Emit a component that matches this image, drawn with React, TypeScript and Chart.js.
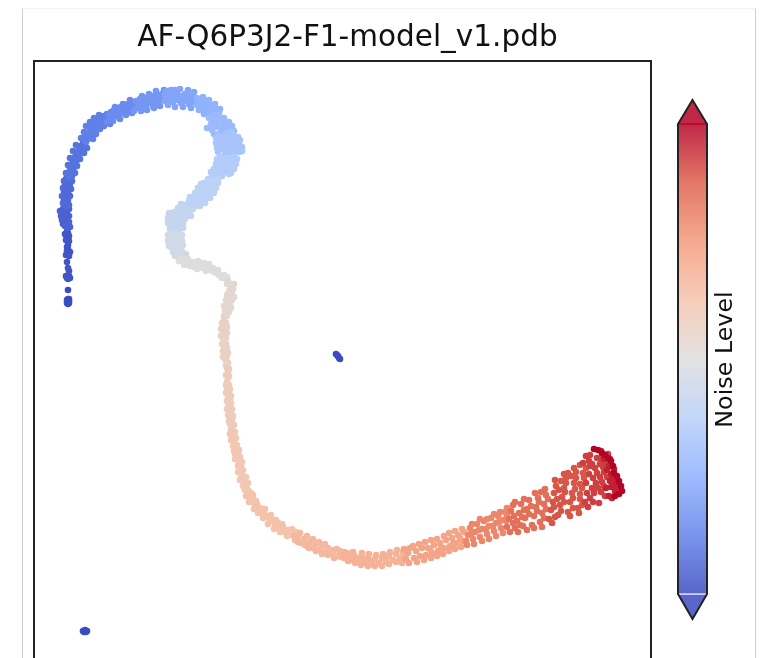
import React, { useEffect, useRef } from "react";
import { Chart, registerables } from "chart.js";

Chart.register(...registerables);

const chartTitle = "AF-Q6P3J2-F1-model_v1.pdb";
const colorbarLabel = "Noise Level";

// Coolwarm colormap anchors, evenly spaced from 0 to 1
const coolwarm = [
  [59, 76, 192], [98, 130, 234], [141, 176, 254], [184, 208, 249], [221, 221, 221],
  [245, 196, 173], [244, 154, 123], [222, 96, 77], [180, 4, 38],
];

// Embedding points, as x,y pairs grouped by noise level
const islandNoise = 0.0;
const islandA = [30.2,32.4, 30.3,32.3, 30.4,32.2, 30.5,32.0, 30.6,31.9];
const islandB = [4.9,4.7, 5.1,4.8, 5.2,4.6, 5.0,4.6, 5.3,4.7];

const bandNoise = [0.0,0.02,0.05,0.07,0.09,0.12,0.15,0.18,0.22,0.26,0.29,0.33,0.36,0.39,0.42,0.46,0.5,0.53,0.56,0.59,0.61,0.63,0.66,0.68,0.72,0.79,0.84,0.89,0.92,0.96,1.0];

const band00 = [3.4,37.6, 3.3,37.8, 3.5,37.7, 3.3,37.5, 3.4,37.4, 3.5,37.5, 3.4,37.9, 3.5,37.9, 3.4,38.8];
const band01 = [3.4,40.1, 3.3,40.0, 3.5,40.2, 3.2,40.2, 3.6,40.0, 3.4,39.9, 3.5,40.7, 3.4,41.0, 3.4,42.4, 3.3,42.7, 3.5,42.5, 3.2,42.3, 3.6,42.6, 3.4,42.9, 3.5,42.2, 3.3,43.1, 3.4,43.3, 3.3,41.6, 3.3,44.1, 3.2,44.3, 3.4,44.0, 3.5,44.2, 3.1,44.4, 3.3,44.6, 3.4,44.5, 3.2,43.8, 3.5,43.7];
const band02 = [3.3,45.0, 3.1,45.2, 3.4,45.3, 3.2,45.5, 3.0,45.7, 3.3,45.8, 3.1,46.0, 2.9,46.2, 3.2,46.3, 3.0,46.5, 2.8,46.5, 3.3,46.6, 3.1,46.8, 2.9,46.9, 2.8,45.8, 3.5,45.6, 2.7,46.2, 3.5,46.2, 2.6,46.7, 3.5,46.9, 2.9,45.4, 3.6,45.1];
const band03 = [3.2,47.1, 3.0,47.3, 3.3,47.5, 3.1,47.7, 3.4,47.8, 3.0,47.9, 3.2,48.1, 3.4,48.3, 3.1,48.4, 3.3,48.6, 3.0,48.7, 3.5,48.8, 3.2,49.0, 3.4,49.2, 3.1,49.3, 3.6,49.4, 3.3,49.6, 3.5,49.8, 3.2,49.9, 2.9,47.5, 3.5,47.3, 2.8,48.2, 3.6,48.2, 2.9,49.0, 3.7,48.9, 3.0,49.7, 3.8,49.7];
const band04 = [3.5,50.1, 3.8,50.2, 3.4,50.4, 3.7,50.6, 3.9,50.8, 3.6,51.0, 4.0,51.1, 3.8,51.4, 4.2,51.5, 3.9,51.7, 4.3,51.9, 4.1,52.1, 4.5,52.2, 4.3,52.5, 4.7,52.6, 4.5,52.8, 4.9,53.0, 4.7,53.2, 5.1,53.3, 4.9,53.5, 3.2,50.5, 4.1,50.5, 3.4,51.3, 4.3,51.2, 3.6,52.0, 4.6,51.9, 3.9,52.7, 5.0,52.5, 4.2,53.3, 5.3,53.0];
const band05 = [5.2,53.6, 5.4,53.9, 5.0,54.0, 5.3,54.3, 5.7,54.2, 5.5,54.6, 5.9,54.6, 5.6,55.0, 6.0,54.9, 5.9,55.3, 6.3,55.1, 6.1,55.5, 6.5,55.4, 6.4,55.8, 6.8,55.5, 6.7,56.0, 7.1,55.7, 7.0,56.2, 7.4,55.9, 7.3,56.4, 4.7,54.0, 5.0,54.6, 5.9,53.9, 6.2,54.4, 5.2,55.2, 5.6,55.6, 6.6,54.9, 7.0,55.2, 6.0,56.0, 6.5,56.3, 7.6,55.4, 5.5,54.2, 6.2,54.9];
const band06 = [7.6,56.0, 7.7,56.6, 8.0,56.2, 8.0,56.8, 8.3,56.4, 8.4,57.0, 8.7,56.5, 8.7,57.1, 9.0,56.7, 9.1,57.3, 9.3,56.9, 9.4,57.4, 9.7,57.0, 9.8,57.6, 9.6,57.2, 10.0,57.2, 8.3,56.7, 7.3,55.6, 7.9,55.7, 8.6,55.9, 8.5,56.1, 9.2,56.3, 9.8,56.5, 7.5,56.4, 8.1,57.1, 8.9,57.4, 9.6,57.8, 8.5,56.6, 9.4,56.7];
const band07 = [10.2,57.0, 10.2,57.7, 10.5,57.3, 10.6,57.9, 10.9,57.1, 10.9,57.6, 11.2,57.9, 11.2,57.3, 11.6,57.5, 11.6,58.1, 12.0,57.6, 12.0,58.2, 12.3,57.7, 12.4,58.3, 12.7,57.8, 12.8,58.4, 12.6,58.1, 11.0,58.0, 10.4,57.5, 10.0,56.7, 10.7,56.7, 11.3,56.8, 12.0,57.0, 12.6,57.2, 10.8,58.2, 11.5,58.4, 12.2,58.7, 13.0,58.8, 11.1,57.0, 11.9,57.2, 12.4,57.3];
const band08 = [13.1,57.7, 13.1,58.3, 13.5,57.9, 13.5,58.5, 13.9,57.6, 13.9,58.3, 14.3,57.8, 14.3,58.5, 14.7,57.5, 14.7,58.2, 15.1,57.7, 15.1,58.4, 15.5,57.4, 15.5,58.2, 15.9,57.6, 15.9,58.3, 13.3,58.7, 14.1,58.8, 13.4,57.3, 14.1,57.1, 14.9,57.1, 15.7,57.0, 13.7,58.8, 14.6,58.9, 15.4,58.8, 16.0,58.6, 13.3,58.0, 14.1,58.1, 14.9,57.9, 15.3,57.9, 15.7,57.9];
const band09 = [16.3,57.3, 16.3,58.0, 16.7,57.1, 16.7,57.8, 17.1,56.9, 17.1,57.6, 17.5,56.7, 17.5,57.4, 17.8,56.4, 17.9,57.1, 18.2,56.2, 18.2,56.9, 16.9,57.5, 17.3,57.2, 16.5,56.8, 17.0,56.4, 17.5,56.1, 16.9,58.1, 17.5,57.8, 18.1,57.4, 18.6,56.9, 16.5,57.6, 17.2,56.7, 17.7,56.9, 18.5,56.5];
const band10 = [17.5,56.0, 17.9,55.7, 18.4,56.4, 18.7,56.0, 18.2,55.5, 17.9,56.3, 18.9,55.6, 18.5,55.2, 19.2,55.3, 18.8,55.0, 19.3,54.9, 18.3,55.8, 17.7,55.4, 19.0,54.6, 19.5,54.5, 18.7,54.6, 18.2,55.1, 19.6,54.9, 17.3,55.0, 17.8,54.8, 18.0,54.4, 19.0,56.0, 19.5,55.6, 19.8,55.2, 20.0,54.7, 18.0,55.3, 18.5,54.4, 19.3,54.2];
const band11 = [18.5,54.2, 19.0,54.2, 19.5,54.1, 20.0,54.2, 18.6,53.8, 19.1,53.8, 19.6,53.7, 20.1,53.7, 18.6,53.4, 19.1,53.3, 19.6,53.3, 20.1,53.3, 20.5,53.5, 18.9,52.9, 19.4,52.9, 19.9,52.9, 20.4,53.0, 19.1,52.5, 19.6,52.5, 20.1,52.5, 20.5,52.6, 18.2,54.0, 18.2,53.5, 18.3,53.0, 18.4,52.6, 20.4,54.1, 20.6,53.8, 20.8,53.1, 20.8,52.7, 19.3,54.5, 19.8,54.6, 18.8,54.0, 19.4,53.5, 19.9,53.5, 19.3,53.1, 19.7,53.1, 20.3,52.8];
const band12 = [18.6,52.1, 19.1,52.0, 19.6,52.0, 20.0,52.1, 18.5,51.6, 19.0,51.5, 19.5,51.5, 19.9,51.6, 18.3,51.1, 18.8,51.0, 19.3,51.0, 19.8,51.2, 18.0,50.6, 18.5,50.6, 19.0,50.6, 19.4,50.8, 17.8,50.2, 18.3,50.2, 18.8,50.2, 18.3,51.9, 18.2,51.4, 18.0,50.9, 17.7,50.6, 20.3,51.9, 20.2,51.4, 20.0,50.9, 19.7,50.5, 19.3,51.8, 18.8,51.8, 19.7,51.7, 18.6,51.3, 19.1,51.3, 19.5,50.4];
const band13 = [17.4,49.9, 17.9,49.8, 18.4,49.9, 17.0,49.5, 17.5,49.4, 18.0,49.3, 16.8,49.0, 17.3,48.9, 17.8,48.9, 16.5,48.6, 17.0,48.5, 17.5,48.4, 15.6,48.1, 16.2,48.0, 16.8,48.1, 17.2,48.0, 15.5,47.7, 16.1,47.6, 16.7,47.6, 15.1,47.3, 15.6,47.3, 16.1,47.2, 16.6,47.2, 14.7,47.4, 16.7,49.4, 16.4,49.0, 16.1,48.5, 18.4,49.5, 18.2,49.0, 18.0,48.5, 17.6,48.0, 17.1,47.5, 17.2,49.2, 17.6,49.7, 16.7,48.8, 16.5,48.3, 17.1,47.9, 15.8,47.8, 16.4,47.5];
const band14 = [14.4,47.0, 14.9,46.9, 15.4,46.9, 14.0,46.6, 14.5,46.5, 15.0,46.5, 15.6,46.6, 13.8,46.2, 14.3,46.1, 14.8,46.1, 15.3,46.2, 13.7,45.8, 14.2,45.7, 14.7,45.7, 13.6,45.3, 14.1,45.3, 14.6,45.4, 13.6,44.9, 14.1,44.9, 14.6,44.9, 13.5,46.5, 13.4,46.0, 13.4,45.5, 14.7,47.3, 15.9,46.9, 15.7,46.2, 15.1,45.9, 14.9,45.4, 14.9,45.0, 14.1,46.3, 14.5,46.0, 14.4,45.5, 13.9,45.1];
const band15 = [13.6,44.5, 14.1,44.4, 14.5,44.5, 13.6,44.0, 14.1,44.0, 14.5,44.1, 13.6,43.6, 14.1,43.5, 14.5,43.5, 13.7,43.1, 14.2,43.0, 14.6,43.1, 13.9,42.6, 14.4,42.6, 14.8,42.7, 14.1,42.2, 14.6,42.1, 15.0,42.2, 13.4,44.3, 13.4,43.7, 13.5,43.2, 14.8,44.3, 14.8,43.7, 14.9,43.3, 13.8,44.2, 13.9,43.8, 14.3,44.2, 14.3,43.3, 14.0,42.8, 14.6,42.4, 15.2,42.4, 15.2,41.9];
const band16 = [14.5,41.7, 14.9,41.7, 15.3,41.5, 15.0,41.3, 15.6,41.2, 16.0,41.1, 16.2,41.4, 16.6,41.3, 16.9,41.0, 17.3,41.2, 17.6,40.8, 17.9,41.0, 18.2,40.5, 18.5,40.3, 18.8,40.0, 19.1,40.0, 14.8,42.0, 15.4,41.9, 15.8,41.6, 16.4,41.7, 17.0,41.5, 17.5,41.4, 16.3,40.9, 17.2,40.7, 18.0,40.6, 18.4,40.8, 19.0,40.3, 19.3,40.1];
const band17 = [19.4,39.7, 19.6,39.3, 19.3,39.4, 19.7,39.0, 19.5,38.7, 19.8,38.5, 19.6,38.2, 19.5,37.8, 19.8,37.8, 19.3,37.4, 19.6,37.3, 19.3,37.0, 19.5,36.6, 19.1,36.7, 19.3,36.2, 19.0,36.2, 20.0,39.4, 19.9,38.9, 20.0,38.1, 19.3,38.3, 19.2,37.8, 19.7,37.0, 19.0,37.2];
const band18 = [19.0,35.8, 19.2,35.5, 18.9,35.2, 19.1,34.9, 18.9,34.6, 19.1,34.3, 18.9,34.0, 19.0,33.7, 19.2,33.4, 19.0,33.1, 19.2,32.8, 19.1,32.5, 19.3,32.2, 19.1,31.9, 19.3,31.6, 19.2,31.3, 18.8,35.5, 19.3,35.1, 18.7,34.9, 19.3,34.5, 18.7,34.2, 19.2,34.0, 18.8,33.4, 19.3,33.0, 18.9,32.7, 19.4,32.5, 18.9,32.1, 19.4,31.5];
const band19 = [19.3,31.0, 19.4,30.6, 19.2,30.3, 19.4,30.0, 19.3,29.6, 19.5,29.3, 19.3,28.9, 19.5,28.6, 19.4,28.2, 19.6,27.9, 19.4,27.5, 19.6,27.2, 19.5,26.8, 19.7,26.5, 19.6,26.1, 19.8,25.8, 19.6,25.4, 19.8,25.1, 19.5,30.9, 19.5,30.2, 19.2,29.3, 19.6,28.9, 19.2,28.5, 19.7,28.2, 19.3,27.7, 19.7,27.5, 19.3,26.9, 19.8,26.9, 19.4,26.3, 19.9,26.2, 19.5,25.7, 20.0,25.3];
const band20 = [19.7,24.8, 19.9,24.4, 19.9,24.0, 20.0,23.6, 20.1,23.2, 19.9,23.2, 20.2,22.8, 20.1,22.4, 20.4,22.4, 20.3,22.0, 20.5,21.6, 20.4,21.2, 20.7,21.2, 20.6,20.8, 20.8,20.4, 20.7,20.0, 21.0,20.0, 21.0,19.6, 21.2,19.2, 21.1,18.8, 21.4,18.8, 19.6,24.4, 20.1,24.6, 19.7,23.8, 20.2,24.0, 20.3,23.3, 20.0,22.7, 20.5,22.8, 20.1,21.9, 20.6,22.1, 20.8,21.6, 20.4,20.6, 20.9,20.8, 20.6,19.8, 21.2,20.1, 20.9,19.2, 21.4,19.5];
const band21 = [21.4,18.4, 21.7,18.5, 21.6,18.0, 21.9,17.9, 22.0,17.5, 22.3,17.4, 22.3,17.0, 22.6,17.0, 22.7,16.5, 23.0,16.6, 23.2,16.1, 23.5,16.2, 23.6,15.7, 23.9,15.8, 24.1,15.3, 24.4,15.5, 24.6,15.0, 24.9,15.1, 25.1,14.6, 25.4,14.8, 25.6,14.3, 25.9,14.5, 21.2,18.2, 21.9,18.3, 21.5,17.6, 22.2,17.7, 22.0,16.9, 22.4,16.5, 23.1,16.9, 22.9,16.0, 23.7,16.3, 23.4,15.4, 24.2,15.8, 24.0,14.9, 24.8,15.4, 24.6,14.6, 25.3,14.2, 25.8,14.9, 26.2,14.6];
const band22 = [26.1,13.8, 26.4,14.2, 26.7,13.5, 27.0,13.9, 27.3,13.2, 27.6,13.6, 27.9,13.0, 28.2,13.4, 28.5,12.8, 28.8,13.2, 29.1,12.6, 29.4,13.0, 29.7,12.4, 30.0,12.8, 30.3,12.2, 30.6,12.7, 27.5,13.0, 28.9,12.5, 30.1,12.1, 26.6,14.5, 26.4,13.6, 27.3,14.2, 27.1,13.3, 27.9,13.9, 28.5,13.6, 28.2,12.7, 29.1,13.4, 28.8,12.4, 29.4,12.3, 30.3,12.9, 30.0,12.0, 30.7,12.1, 26.0,14.2, 29.6,12.7];
const band23 = [31.0,12.0, 31.3,12.5, 31.7,11.8, 32.0,12.3, 32.4,11.7, 32.7,12.1, 33.1,11.5, 33.4,12.0, 33.8,11.4, 34.1,11.9, 34.5,11.5, 34.8,12.0, 35.2,11.6, 35.5,12.2, 35.9,11.8, 36.2,12.4, 36.6,12.0, 36.9,12.6, 33.0,11.9, 35.0,12.3, 31.0,12.6, 31.4,11.7, 31.9,12.6, 32.1,11.5, 32.8,12.5, 32.7,11.3, 33.5,12.4, 33.4,11.2, 34.2,12.3, 34.1,11.2, 34.9,12.4, 34.8,11.2, 35.6,12.6, 35.5,11.4, 36.3,12.8, 36.2,11.6, 36.9,12.1, 36.8,11.5, 31.6,12.2, 32.3,12.0, 33.7,11.7, 35.2,11.9];
const band24 = [37.2,11.9, 37.4,12.5, 37.6,13.0, 38.0,12.0, 38.2,12.7, 38.6,12.2, 38.8,13.0, 39.2,12.3, 39.4,13.0, 39.8,12.5, 40.0,13.3, 40.4,12.7, 40.6,13.5, 41.0,13.0, 41.2,13.8, 41.6,13.2, 41.8,14.0, 42.2,13.5, 42.4,14.3, 42.8,13.7, 43.0,14.6, 37.0,12.9, 37.5,11.5, 37.9,13.2, 38.3,11.6, 38.5,13.4, 39.0,11.8, 39.1,13.6, 39.7,12.0, 39.7,13.8, 40.3,12.2, 40.3,13.9, 40.9,12.4, 41.0,14.2, 41.5,12.7, 41.5,14.5, 42.1,12.9, 42.1,14.7, 42.7,13.1, 42.8,14.9, 39.6,12.9, 40.7,13.0, 41.9,13.4, 42.6,14.0];
const band25 = [43.2,13.7, 43.4,14.3, 43.6,15.0, 43.9,13.9, 44.1,14.6, 44.3,15.4, 44.6,14.1, 44.8,14.9, 45.0,15.7, 45.3,14.4, 45.5,15.2, 45.7,16.0, 46.0,14.7, 46.2,15.5, 46.4,16.2, 46.7,15.0, 46.9,15.8, 47.1,16.6, 43.3,13.3, 43.8,15.4, 44.0,13.4, 44.6,15.9, 44.8,13.7, 45.3,15.9, 45.5,13.9, 45.2,14.9, 46.0,16.4, 46.2,14.2, 46.6,16.6, 46.9,14.5, 43.7,14.4, 44.5,14.8, 45.9,15.2, 46.5,15.6, 47.2,15.7, 47.3,16.2, 47.3,17.0];
const band26 = [47.3,15.1, 47.5,15.9, 47.7,16.7, 47.9,17.3, 48.1,15.0, 48.3,15.7, 48.5,16.5, 48.7,17.4, 48.9,15.2, 49.1,16.0, 49.3,16.9, 49.5,17.8, 49.8,15.3, 50.0,16.2, 50.2,17.1, 50.4,18.0, 50.6,15.6, 50.8,16.5, 51.0,17.4, 51.2,18.3, 47.6,14.6, 47.9,15.5, 48.0,16.2, 48.1,17.6, 48.4,14.6, 48.6,15.3, 48.8,16.1, 49.0,16.8, 49.0,17.9, 49.5,16.4, 49.7,17.2, 49.3,14.8, 50.0,15.0, 50.1,18.5, 50.3,16.7, 50.5,17.6, 50.8,15.1, 51.0,16.0, 51.2,16.9, 51.1,18.9, 50.7,18.6, 51.4,17.9];
const band27 = [51.5,15.9, 51.7,16.8, 51.9,17.6, 52.0,18.5, 52.2,19.2, 52.4,16.3, 52.6,17.3, 52.8,18.1, 53.0,19.0, 53.2,20.0, 53.4,16.6, 53.6,17.6, 53.8,18.5, 54.0,19.5, 54.2,20.6, 54.4,17.0, 54.6,17.9, 54.8,19.0, 55.0,20.0, 55.2,21.0, 51.8,15.5, 52.1,16.1, 52.0,17.1, 52.3,17.9, 52.1,19.8, 52.5,18.8, 52.7,19.7, 52.7,16.7, 53.0,17.6, 53.1,18.6, 53.2,19.5, 53.4,20.5, 53.0,20.4, 53.6,16.2, 53.9,17.0, 53.9,18.0, 54.1,18.9, 54.2,20.0, 54.0,21.0, 54.5,16.5, 54.8,17.3, 54.6,18.4, 54.6,19.4, 54.9,20.5, 54.6,21.3, 53.7,20.2];
const band28 = [55.4,17.1, 55.6,18.0, 55.8,19.0, 55.9,20.0, 56.1,21.0, 56.3,22.0, 56.5,17.5, 56.7,18.6, 56.8,19.6, 57.0,20.6, 57.2,21.6, 57.4,22.4, 55.5,21.7, 54.9,21.5, 55.6,22.3, 55.1,17.6, 55.3,18.5, 55.2,19.5, 55.5,20.4, 55.6,21.2, 55.9,17.6, 56.0,18.5, 56.2,19.5, 56.3,20.5, 56.6,21.4, 56.4,19.0, 56.6,20.1, 56.7,22.0, 56.9,21.1, 57.0,19.2, 57.1,18.2, 57.3,20.1, 55.2,22.2, 55.8,21.4];
const band29 = [57.5,18.2, 57.7,19.1, 57.9,20.0, 58.0,20.9, 57.5,21.2, 58.2,18.9, 58.4,19.7, 57.2,19.0, 57.6,19.7, 57.7,20.4, 57.6,21.9, 57.2,22.0, 58.0,19.4, 58.1,18.7, 57.3,20.8, 57.8,18.0, 57.0,21.9, 56.7,22.7, 58.4,19.1];
const band30 = [56.0,22.9, 56.4,22.8, 56.8,22.5, 57.1,22.3, 57.4,22.0, 57.7,21.7, 57.9,21.2, 58.0,20.5, 58.3,20.2, 58.5,19.7, 58.7,19.2, 58.8,18.7, 58.5,18.4, 58.1,18.2];

const bands = [band00,band01,band02,band03,band04,band05,band06,band07,band08,band09,band10,band11,band12,band13,band14,band15,band16,band17,band18,band19,band20,band21,band22,band23,band24,band25,band26,band27,band28,band29,band30];

function coolwarmColor(v: number, alpha = 1): string {
  const t = Math.min(1, Math.max(0, v)) * (coolwarm.length - 1);
  const i = Math.min(coolwarm.length - 2, Math.floor(t));
  const f = t - i;
  const c = coolwarm[i].map((a, k) => Math.round(a + (coolwarm[i + 1][k] - a) * f));
  return `rgba(${c[0]},${c[1]},${c[2]},${alpha})`;
}

function pairs(flat: number[]) {
  const out: { x: number; y: number }[] = [];
  for (let i = 0; i < flat.length; i += 2) out.push({ x: flat[i], y: flat[i + 1] });
  return out;
}

const framePlugin = {
  id: "frame",
  afterLayout(chart: any) {
    chart.titleBlock.left += 5;
    chart.titleBlock.right += 5;
  },
  afterDatasetsDraw(chart: any) {
    const { left, top, right, bottom } = chart.chartArea;
    const ctx = chart.ctx;
    ctx.save();
    ctx.strokeStyle = "#222";
    ctx.lineWidth = 2;
    ctx.strokeRect(left, top, right - left, bottom - top);
    ctx.restore();
  },
};

const BAR_ALPHA = 0.85;

const colorbarPlugin = {
  id: "colorbarExtras",
  afterDatasetsDraw(chart: any) {
    const ctx = chart.ctx;
    const y = chart.scales.y;
    const { left, right, top, bottom } = chart.chartArea;
    const mid = (left + right) / 2;
    const half = 14.5;
    const y0 = y.getPixelForValue(0);
    const y1 = y.getPixelForValue(1);
    ctx.save();
    ctx.fillStyle = coolwarmColor(1, BAR_ALPHA);
    ctx.beginPath();
    ctx.moveTo(mid - half, y1);
    ctx.lineTo(mid, top);
    ctx.lineTo(mid + half, y1);
    ctx.closePath();
    ctx.fill();
    ctx.fillStyle = coolwarmColor(0, BAR_ALPHA);
    ctx.beginPath();
    ctx.moveTo(mid - half, y0);
    ctx.lineTo(mid, bottom);
    ctx.lineTo(mid + half, y0);
    ctx.closePath();
    ctx.fill();
    ctx.strokeStyle = "rgba(255,255,255,0.85)";
    ctx.lineWidth = 1.5;
    ctx.beginPath();
    ctx.moveTo(mid - half + 1, y0);
    ctx.lineTo(mid + half - 1, y0);
    ctx.stroke();
    ctx.strokeStyle = "#b4042a";
    ctx.beginPath();
    ctx.moveTo(mid - half + 1, y1);
    ctx.lineTo(mid + half - 1, y1);
    ctx.stroke();
    ctx.strokeStyle = "#222";
    ctx.lineWidth = 2;
    ctx.beginPath();
    ctx.moveTo(mid, top);
    ctx.lineTo(mid + half, y1);
    ctx.lineTo(mid + half, y0);
    ctx.lineTo(mid, bottom);
    ctx.lineTo(mid - half, y0);
    ctx.lineTo(mid - half, y1);
    ctx.closePath();
    ctx.stroke();
    ctx.translate(right + 9, (top + bottom) / 2);
    ctx.rotate(-Math.PI / 2);
    ctx.fillStyle = "#111";
    ctx.font = '23.8px "DejaVu Sans"';
    ctx.textAlign = "center";
    ctx.textBaseline = "middle";
    ctx.fillText(colorbarLabel, 0, 0);
    ctx.restore();
  },
};

export default function App() {
  const mainRef = useRef<HTMLCanvasElement>(null);
  const barRef = useRef<HTMLCanvasElement>(null);

  useEffect(() => {
    const points: { x: number; y: number }[] = [];
    const colors: string[] = [];
    const add = (flat: number[], noise: number) => {
      for (const p of pairs(flat)) {
        points.push(p);
        colors.push(coolwarmColor(noise));
      }
    };
    add(islandA, islandNoise);
    add(islandB, islandNoise);
    bands.forEach((b, i) => add(b, bandNoise[i]));

    const main = new Chart(mainRef.current!, {
      type: "scatter",
      data: {
        datasets: [
          {
            data: points,
            pointBackgroundColor: colors,
            pointBorderWidth: 0,
            pointRadius: 3.3,
          },
        ],
      },
      options: {
        animation: false,
        responsive: false,
        layout: { padding: { left: 34, right: 118, top: 0, bottom: 22 } },
        plugins: {
          legend: { display: false },
          tooltip: { enabled: false },
          title: {
            display: true,
            text: chartTitle,
            color: "#111",
            font: { family: "DejaVu Sans", size: 29.5, weight: "normal" },
            padding: { top: 21, bottom: 4.6 },
          },
        },
        scales: {
          x: { type: "linear", min: 0, max: 61.7, display: false },
          y: { type: "linear", min: 0, max: 61.7, display: false },
        },
      },
      plugins: [framePlugin],
    } as any);

    const bar = new Chart(barRef.current!, {
      type: "bar",
      data: {
        labels: ["noise"],
        datasets: [
          {
            data: [[0, 1]],
            barThickness: 29,
            backgroundColor: (c: any) => {
              const area = c.chart.chartArea;
              if (!area) return "#888";
              const ys = c.chart.scales.y;
              const g = c.chart.ctx.createLinearGradient(0, ys.getPixelForValue(0), 0, ys.getPixelForValue(1));
              coolwarm.forEach((_, i) => {
                const t = i / (coolwarm.length - 1);
                g.addColorStop(t, coolwarmColor(t, BAR_ALPHA));
              });
              return g;
            },
          },
        ],
      },
      options: {
        animation: false,
        responsive: false,
        layout: { padding: { left: 18, right: 52, top: 10, bottom: 11 } },
        plugins: { legend: { display: false }, tooltip: { enabled: false } },
        scales: {
          x: { display: false },
          y: { display: false, min: -0.053, max: 1.051 },
        },
      },
      plugins: [colorbarPlugin],
    } as any);

    return () => {
      main.destroy();
      bar.destroy();
    };
  }, []);

  return (
    <div style={{ position: "fixed", left: 0, top: 0, width: 769, height: 658, overflow: "hidden", background: "#fff" }}>
      <div
        style={{
          position: "absolute",
          left: 22,
          top: 8,
          width: 732,
          height: 660,
          borderLeft: "1px solid #cfcfcf",
          borderRight: "1px solid #cfcfcf",
          borderTop: "1px solid #f2f2f2",
        }}
      />
      <canvas ref={mainRef} width={769} height={700} style={{ position: "absolute", left: 0, top: 0, filter: "blur(0.5px)" }} />
      <canvas ref={barRef} width={119} height={540} style={{ position: "absolute", left: 650, top: 90, filter: "blur(0.5px)" }} />
    </div>
  );
}
